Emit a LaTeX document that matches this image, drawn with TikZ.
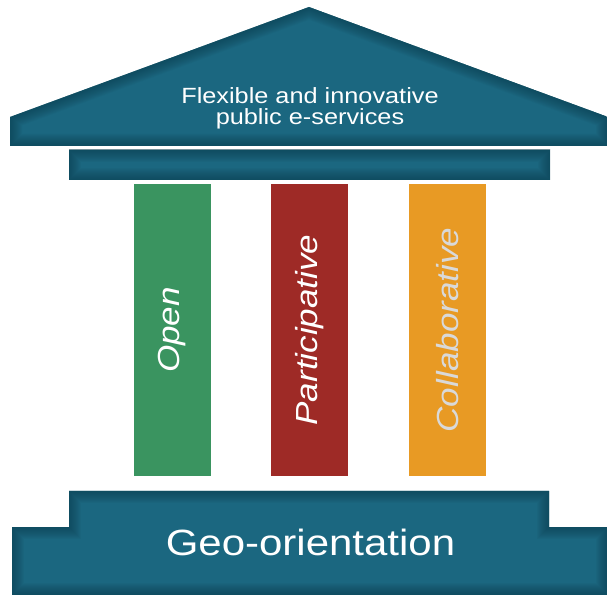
\documentclass[tikz,border=0pt]{standalone}
\usepackage{fontspec}
\usepackage{graphicx}
\usepackage{tikz}
\usetikzlibrary{positioning, calc}
\newfontfamily\housefont[FakeStretch=1.15]{Liberation Sans}

\definecolor{houseteal}{HTML}{1B6780}
\definecolor{housedark}{HTML}{0F4152}
\definecolor{opengreen}{HTML}{3A9460}
\definecolor{partred}{HTML}{9E2A26}
\definecolor{collorange}{HTML}{E89A24}

% teal part with a soft dark rim inside
\newcommand{\housepart}[1]{%
  \begin{scope}
    \clip #1;
    \fill[houseteal] #1;
    \foreach \w in {2,4,...,24}
      \draw[housedark, line width=\w pt, opacity=0.07, line join=miter] #1;
  \end{scope}}

\begin{document}
\begin{tikzpicture}[
    x=1pt, y=1pt,
    node distance=60pt,
    pillar/.style={minimum width=77pt, minimum height=292pt, inner sep=0pt,
      text=white, font=\housefont\itshape\fontsize{30.5}{30.5}\selectfont},
    label/.style={text=white, align=center, inner sep=0pt}
]
\useasboundingbox (0,0) rectangle (607,594);

% roof, beam and base
\housepart{(10,448) -- (10,477) -- (309,587) -- (608,477) -- (608,448) -- cycle}
\housepart{(69,414) rectangle (550,444)}
\housepart{(69,103) -- (549,103) -- (549,67) -- (608,67) -- (608,-1) -- (12,-1) -- (12,67) -- (69,67) -- cycle}

\node[label, font=\housefont\fontsize{22}{21}\selectfont] (roof) at (310,486)
  {Flexible and innovative\\public e-services};
\node[label, anchor=base, font=\housefont\fontsize{36.5}{36.5}\selectfont] (base) at (310.5,39)
  {Geo-orientation};

% pillars
\node[pillar, fill=opengreen] (open) at (172.5,264) {\rotatebox{90}{Open}};
\node[pillar, fill=partred, right=of open] (participative) {\rotatebox{90}{Participative}};
\node[pillar, fill=collorange, right=of participative, text=white!85!black] (collaborative) {\rotatebox{90}{Collaborative}};

\end{tikzpicture}
\end{document}
